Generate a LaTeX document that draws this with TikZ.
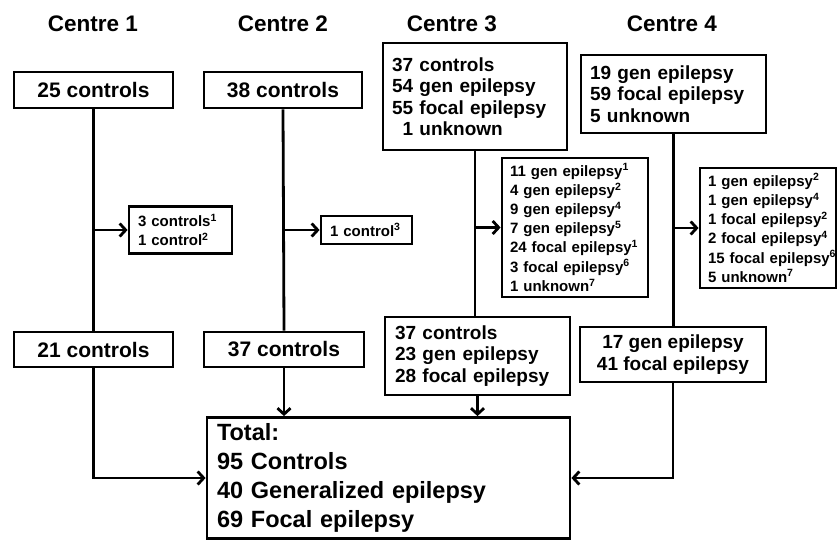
\documentclass[tikz,border=0pt]{standalone}
\usepackage{fontspec}
\setmainfont{Liberation Sans}
\usetikzlibrary{arrows.meta}
\newcommand\fsTitle{\fontsize{22.5}{26}\selectfont}
\newcommand\fsOne{\fontsize{21}{24}\selectfont}
\newcommand\fsMulti{\fontsize{19}{21.5}\selectfont}
\newcommand\fsSmall{\fontsize{15}{19.2}\selectfont}
\newcommand\fsTotal{\fontsize{23.5}{29}\selectfont}
\newcommand\sups[1]{\textsuperscript{#1}}
\begin{document}
\begin{tikzpicture}[x=1pt,y=-1pt,
  box/.style={draw, line width=2.8pt, inner ysep=0pt, font=\bfseries},
  conn/.style={line width=2.8pt},
  arr/.style={line width=2.8pt, -{Straight Barb[length=6pt,width=13pt]}},
  ttl/.style={font=\bfseries\fsTitle, inner sep=0pt}
]
\useasboundingbox (0,0) rectangle (838,539);

% titles
\node[ttl] (t1) at (93,24) {Centre 1};
\node[ttl] (t2) at (283,24) {Centre 2};
\node[ttl] (t3) at (452,24) {Centre 3};
\node[ttl] (t4) at (672,24) {Centre 4};

% top boxes
\node[box, minimum width=159pt, minimum height=36pt, inner xsep=0pt, font=\bfseries\fsOne] (c1top) at (93.5,90) {25 controls};
\node[box, minimum width=158pt, minimum height=36pt, inner xsep=0pt, font=\bfseries\fsOne] (c2top) at (283,90) {38 controls};
\node[box, minimum height=107pt, inner xsep=9pt, text width=166pt, align=left, font=\bfseries\fsMulti] (c3top) at (475,96.5)
  {37 controls\\54 gen epilepsy\\55 focal epilepsy\\\hphantom{0}1 unknown};
\node[box, minimum height=78pt, inner xsep=9pt, text width=167pt, align=left, font=\bfseries\fsMulti] (c4top) at (673.5,94)
  {19 gen epilepsy\\59 focal epilepsy\\5 unknown};

% exclusion boxes
\node[box, minimum height=47pt, inner xsep=9pt, text width=85pt, align=left, font=\bfseries\fsSmall] (c1ex) at (180.5,230)
  {3 controls\sups{1}\\1 control\sups{2}};
\node[box, minimum height=28pt, inner xsep=9pt, text width=73pt, align=left, font=\bfseries\fsSmall] (c2ex) at (366.5,230)
  {1 control\sups{3}};
\node[box, minimum height=139pt, inner xsep=8pt, text width=130pt, align=left, font=\bfseries\fsSmall] (c3ex) at (575,227.5)
  {11 gen epilepsy\sups{1}\\4 gen epilepsy\sups{2}\\9 gen epilepsy\sups{4}\\7 gen epilepsy\sups{5}\\24 focal epilepsy\sups{1}\\3 focal epilepsy\sups{6}\\1 unknown\sups{7}};
\node[box, minimum height=120pt, inner xsep=8pt, text width=120pt, align=left, font=\bfseries\fsSmall] (c4ex) at (768,228)
  {1 gen epilepsy\sups{2}\\1 gen epilepsy\sups{4}\\1 focal epilepsy\sups{2}\\2 focal epilepsy\sups{4}\\\mbox{15 focal epilepsy\sups{6}}\\5 unknown\sups{7}};

% bottom boxes
\node[box, minimum width=159pt, minimum height=35pt, inner xsep=0pt, font=\bfseries\fsOne] (c1bot) at (93.5,349.5) {21 controls};
\node[box, minimum width=160pt, minimum height=35pt, inner xsep=0pt, font=\bfseries\fsOne] (c2bot) at (284,349.5) {37 controls};
\node[box, minimum height=78pt, inner xsep=10pt, text width=165pt, align=left, font=\bfseries\fsMulti] (c3bot) at (477.5,356)
  {37 controls\\23 gen epilepsy\\28 focal epilepsy};
\node[box, minimum width=186pt, minimum height=55pt, inner xsep=0pt, align=center, font=\bfseries\fsMulti] (c4bot) at (673,354.5)
  {17 gen epilepsy\\41 focal epilepsy};

% total
\node[box, minimum height=121pt, inner xsep=10pt, text width=343pt, align=left, font=\bfseries\fsTotal] (total) at (388.5,478)
  {Total:\\95 Controls\\40 Generalized epilepsy\\69 Focal epilepsy};

% connectors
\draw[conn] (c1top.south) -- (c1bot.north);
\draw[arr] (c1top.south |- c1ex.west) -- (c1ex.west);
\draw[arr] (c1bot.south) |- (total.west);

\draw[conn] (c2top.south) -- (c2bot.north);
\draw[arr] (c2top.south |- c2ex.west) -- (c2ex.west);
\draw[arr] (c2bot.south) -- (c2bot.south |- total.north);

\draw[conn] (c3top.south) -- (c3top.south |- c3bot.north);
\draw[arr] (c3top.south |- c3ex.west) -- (c3ex.west);
\draw[arr] (c3bot.south) -- (c3bot.south |- total.north);

\draw[conn] (c4top.south) -- (c4top.south |- c4bot.north);
\draw[arr] (c4top.south |- c4ex.west) -- (c4ex.west);
\draw[arr] (c4bot.south) |- (total.east);
\end{tikzpicture}
\end{document}
